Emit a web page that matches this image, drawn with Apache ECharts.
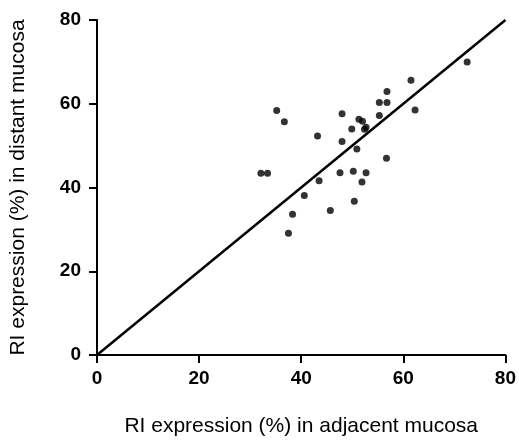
<!DOCTYPE html>
<html>
<head>
<meta charset="utf-8">
<script src="https://cdn.jsdelivr.net/npm/echarts@6/dist/echarts.min.js"></script>
<style>
  html, body { margin: 0; padding: 0; background: #fff; }
  #chart { width: 519px; height: 442px; }
</style>
</head>
<body>
<div id="chart"></div>
<script>
// RI expression (%) per patient: adjacent mucosa (x) vs distant mucosa (y)
const adjacent = [72.5, 61.5, 56.8, 55.3, 56.8, 62.3, 35.2, 55.3, 36.7, 48.0,
                  51.3, 52.0, 49.9, 52.7, 52.4, 43.2, 48.0, 50.9, 56.7, 32.1,
                  33.4, 47.6, 50.2, 52.7, 43.5, 51.9, 40.6, 50.4, 38.3, 45.7, 37.5];
const distant  = [70.0, 65.6, 62.9, 60.3, 60.3, 58.5, 58.4, 57.2, 55.7, 57.6,
                  56.3, 55.8, 54.0, 54.4, 53.9, 52.3, 51.0, 49.2, 47.0, 43.4,
                  43.4, 43.5, 43.9, 43.5, 41.6, 41.3, 38.1, 36.7, 33.6, 34.5, 29.1];
// Line of identity (y = x)
const identityLine = [[0, 0], [80, 80]];
const ticks = [0, 20, 40, 60, 80];

const points = adjacent.map((x, i) => [x, distant[i]]);

const font = '"Liberation Sans", Arial, sans-serif';
const axisCommon = {
  type: 'value',
  min: ticks[0],
  max: ticks[ticks.length - 1],
  interval: 20,
  splitLine: { show: false },
  axisLine: { show: true, onZero: false, lineStyle: { color: '#000', width: 2 } },
  axisTick: { show: true, inside: false, length: 8, lineStyle: { color: '#000', width: 2 } },
  axisLabel: { color: '#000', fontFamily: font, fontSize: 19, fontWeight: 'bold' },
  nameLocation: 'middle',
  nameTextStyle: { color: '#000', fontFamily: font, fontSize: 21 }
};

const chart = echarts.init(document.getElementById('chart'), null, { renderer: 'canvas' });
chart.setOption({
  animation: false,
  backgroundColor: '#fff',
  grid: { left: 96, right: 9, top: 20, bottom: 85, containLabel: false },
  xAxis: Object.assign({}, axisCommon, {
    name: 'RI expression (%) in adjacent mucosa',
    nameGap: 61,
    axisLabel: Object.assign({}, axisCommon.axisLabel, { margin: 14 })
  }),
  yAxis: Object.assign({}, axisCommon, {
    name: 'RI expression (%) in distant mucosa',
    nameGap: 68,
    axisLabel: Object.assign({}, axisCommon.axisLabel, { margin: 16 })
  }),
  series: [
    {
      type: 'line',
      data: identityLine,
      symbol: 'none',
      lineStyle: { color: '#000', width: 2.5 },
      z: 2
    },
    {
      type: 'scatter',
      data: points,
      symbol: 'circle',
      symbolSize: 7,
      itemStyle: { color: '#000' },
      z: 3
    }
  ]
});
</script>
</body>
</html>
